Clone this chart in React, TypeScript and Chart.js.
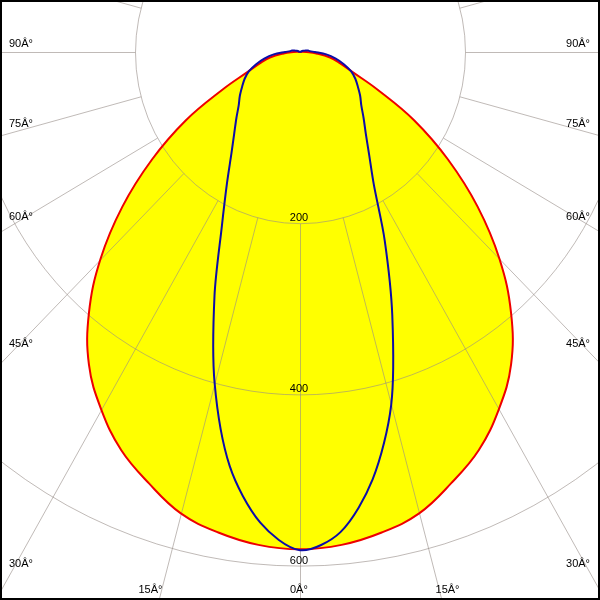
import React, { useEffect, useRef } from "react";
import { Chart, registerables } from "chart.js";

Chart.register(...registerables);

// Gamma angles (degrees from nadir) for every half-plane
const gammaAngles = [
  0, 5, 10, 15, 20, 25, 30, 35, 40, 45, 50, 55, 60, 65, 70, 75, 80, 85, 90,
  95, 100, 105, 110, 115, 120, 125, 130, 135, 140, 145, 150, 155, 160, 165, 170, 175, 180,
];

// C0 - C180 plane (cd/klm)
const c0Values = [
  581, 578, 570, 558, 536, 513, 482, 446, 398, 342, 281, 219, 160, 103, 67, 50, 37, 20, 8,
  3, 0, 0, 0, 0, 0, 0, 0, 0, 0, 0, 0, 0, 0, 0, 0, 0, 0,
];
const c180Values = [
  581, 578, 570, 558, 536, 513, 482, 446, 398, 342, 281, 219, 160, 103, 67, 50, 37, 20, 8,
  3, 0, 0, 0, 0, 0, 0, 0, 0, 0, 0, 0, 0, 0, 0, 0, 0, 0,
];

// C90 - C270 plane (cd/klm)
const c90Values = [
  582, 563, 507, 427, 327, 243, 179, 146, 124, 109, 97, 89, 81, 74, 66, 55, 44, 32, 18,
  12, 10, 7, 4, 2, 0, 0, 0, 0, 0, 0, 0, 0, 0, 0, 0, 0, 0,
];
const c270Values = [
  582, 552, 491, 400, 303, 224, 177, 145, 124, 109, 97, 89, 81, 74, 66, 55, 44, 32, 18,
  12, 10, 7, 4, 2, 0, 0, 0, 0, 0, 0, 0, 0, 0, 0, 0, 0, 0,
];

const angleTicks = [0, 15, 30, 45, 60, 75, 90];
const radialTicks = [200, 400, 600];
const gridAngleStep = 15;
const degreeSuffix = "\u00C2\u00B0";

const RED = "#ee0000";
const BLUE = "#0c0ca8";
const YELLOW = "#ffff00";
const GRID = "rgba(150,140,135,0.6)";
const FONT = "11px 'Liberation Sans', Arial, sans-serif";

// view geometry (pixels per cd and centre offset)
const PX_PER_CD_X = 0.825;
const PX_PER_CD_Y = 0.856;
const SIZE = 600;
const CENTER_Y_PX = 52;

const rad = (d: number) => (d * Math.PI) / 180;

function planePoints(left: number[], right: number[]) {
  const pts: { x: number; y: number }[] = [];
  for (let i = gammaAngles.length - 1; i >= 0; i--) {
    const a = rad(gammaAngles[i]);
    pts.push({ x: -left[i] * Math.sin(a), y: -left[i] * Math.cos(a) });
  }
  for (let i = 1; i < gammaAngles.length; i++) {
    const a = rad(gammaAngles[i]);
    pts.push({ x: right[i] * Math.sin(a), y: -right[i] * Math.cos(a) });
  }
  return pts;
}

const polarPlugin = {
  id: "polarGrid",
  beforeDatasetsDraw(chart: any) {
    const { ctx } = chart;
    const xs = chart.scales.x;
    const ys = chart.scales.y;
    const cx = xs.getPixelForValue(0);
    const cy = ys.getPixelForValue(0);
    ctx.save();
    ctx.translate(0.5, 0.5);
    ctx.strokeStyle = GRID;
    ctx.lineWidth = 1;
    for (const r of radialTicks) {
      const rx = Math.abs(xs.getPixelForValue(r) - cx);
      const ry = Math.abs(ys.getPixelForValue(r) - cy);
      ctx.beginPath();
      ctx.ellipse(cx, cy, rx, ry, 0, 0, Math.PI * 2);
      ctx.stroke();
    }
    const r0 = radialTicks[0];
    const r1 = 2000;
    for (let a = 0; a < 360; a += gridAngleStep) {
      const s = Math.sin(rad(a));
      const c = Math.cos(rad(a));
      ctx.beginPath();
      ctx.moveTo(xs.getPixelForValue(r0 * s), ys.getPixelForValue(-r0 * c));
      ctx.lineTo(xs.getPixelForValue(r1 * s), ys.getPixelForValue(-r1 * c));
      ctx.stroke();
    }
    ctx.restore();
  },
  afterDraw(chart: any) {
    const { ctx, width, height } = chart;
    const xs = chart.scales.x;
    const ys = chart.scales.y;
    const cx = xs.getPixelForValue(0);
    const cy = ys.getPixelForValue(0);
    ctx.save();
    ctx.font = FONT;
    ctx.fillStyle = "#000";
    ctx.textBaseline = "alphabetic";

    // radial value labels
    ctx.textAlign = "center";
    for (const r of radialTicks) {
      const yA = ys.getPixelForValue(-r);
      ctx.fillText(String(r), cx - 1, yA - 2);
    }

    // angle labels
    for (const a of angleTicks) {
      const text = `${a}${degreeSuffix}`;
      const dirX = xs.getPixelForValue(Math.sin(rad(a))) - cx;
      const dirY = ys.getPixelForValue(-Math.cos(rad(a))) - cy;
      if (a >= 30) {
        const t = (cx - 9) / dirX;
        const yL = cy + dirY * t;
        const slope = dirY / dirX;
        const base = yL - 5 - 1.5 * slope;
        ctx.textAlign = "left";
        ctx.fillText(text, 9, base);
        ctx.textAlign = "right";
        ctx.fillText(text, width - 10, base);
      } else {
        const t = (height - cy) / dirY;
        const off = dirX * t;
        const base = height - 7;
        ctx.textAlign = "left";
        if (a === 0) {
          ctx.fillText(text, cx - 10, base);
        } else {
          ctx.fillText(text, cx - off - 20, base);
          ctx.fillText(text, cx + off - 6, base);
        }
      }
    }

    // frame
    ctx.strokeStyle = "#000";
    ctx.lineWidth = 2;
    ctx.strokeRect(1, 1, width - 2, height - 2);
    ctx.restore();
  },
};

export default function App() {
  const canvasRef = useRef<HTMLCanvasElement | null>(null);

  useEffect(() => {
    const canvas = canvasRef.current;
    if (!canvas) return;
    const xHalf = SIZE / 2 / PX_PER_CD_X;
    const yTop = CENTER_Y_PX / PX_PER_CD_Y;
    const yBottom = -(SIZE - CENTER_Y_PX) / PX_PER_CD_Y;

    const chart = new Chart(canvas, {
      type: "scatter",
      data: {
        datasets: [
          {
            label: "C0 - C180",
            data: planePoints(c180Values, c0Values),
            showLine: true,
            borderColor: RED,
            borderWidth: 2,
            backgroundColor: YELLOW,
            fill: "shape",
            pointRadius: 0,
            tension: 0.4,
            order: 2,
          } as any,
          {
            label: "C90 - C270",
            data: planePoints(c270Values, c90Values),
            showLine: true,
            borderColor: BLUE,
            borderWidth: 2,
            backgroundColor: "transparent",
            fill: false,
            pointRadius: 0,
            tension: 0.3,
            order: 1,
          } as any,
        ],
      },
      options: {
        animation: false,
        responsive: false,
        devicePixelRatio: 1,
        events: [],
        layout: { padding: 0 },
        scales: {
          x: { type: "linear", min: -xHalf, max: xHalf, display: false },
          y: { type: "linear", min: yBottom, max: yTop, display: false },
        },
        plugins: {
          legend: { display: false },
          tooltip: { enabled: false },
          filler: { drawTime: "beforeDatasetsDraw" },
        } as any,
      },
      plugins: [polarPlugin],
    });
    return () => chart.destroy();
  }, []);

  return (
    <div style={{ position: "fixed", left: 0, top: 0, width: SIZE, height: SIZE, background: "#fff" }}>
      <canvas ref={canvasRef} width={SIZE} height={SIZE} style={{ display: "block" }} />
    </div>
  );
}
